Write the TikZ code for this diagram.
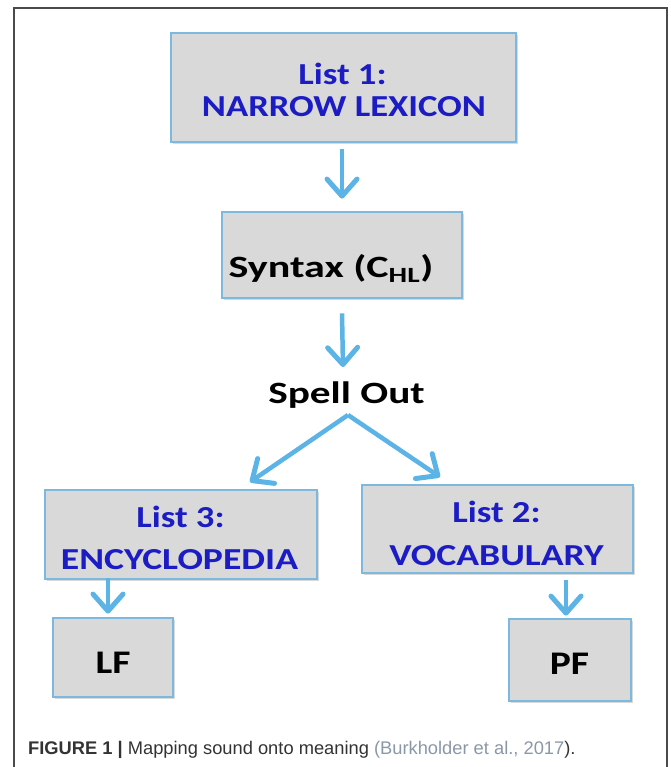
\documentclass[tikz,border=0pt]{standalone}
\usepackage{fontspec}
\setmainfont{Liberation Sans}
\newfontfamily\boxfont[FakeStretch=1.2]{Carlito}
\usetikzlibrary{arrows.meta,shadows}

\definecolor{boxfill}{HTML}{D9D9D9}
\definecolor{boxline}{HTML}{7DB8DE}
\definecolor{arrowblue}{HTML}{5BB3E6}
\definecolor{listblue}{HTML}{1C1CC4}
\definecolor{framegray}{HTML}{4A4A4A}
\definecolor{captext}{HTML}{333333}
\definecolor{citegray}{HTML}{8A97A8}

% horizontal stretch of a label
\newcommand{\widen}[2]{\scalebox{#1}[1]{#2}}

\tikzset{
  panel/.style={draw=boxline, line width=2.8pt, fill=boxfill, inner sep=0pt,
    drop shadow={shadow xshift=2pt, shadow yshift=-2pt, opacity=0.3, fill=gray}},
  flow/.style={draw=arrowblue, line width=4.5pt,
    -{Straight Barb[length=17pt,width=30pt,line width=5pt,round]}},
  listtxt/.style={anchor=base, inner sep=0pt, text=listblue,
    font=\boxfont\bfseries\fontsize{30.5}{32}\selectfont},
  plaintxt/.style={anchor=base, inner sep=0pt, text=black,
    font=\boxfont\bfseries\fontsize{31}{33}\selectfont},
}

\begin{document}
\begin{tikzpicture}[x=1pt,y=-1pt]
\useasboundingbox (0,0) rectangle (670,767);

% outer frame, open at the bottom
\draw[framegray, line width=1.3pt] (14,780) -- (14,8) -- (667,8) -- (667,780);

% boxes
\node[panel, minimum width=345pt, minimum height=109pt] (L1)  at (343.5,87.5) {};
\node[panel, minimum width=240pt, minimum height=86pt]  (Syn) at (342,255) {};
\node[panel, minimum width=272pt, minimum height=89pt]  (L3)  at (181,534.5) {};
\node[panel, minimum width=271pt, minimum height=88pt]  (L2)  at (497.5,529) {};
\node[panel, minimum width=120pt, minimum height=79pt]  (LF)  at (113,657.5) {};
\node[panel, minimum width=122pt, minimum height=82pt]  (PF)  at (570,660) {};

% box texts
\node[listtxt] (L1a) at (342.5,85)  {List 1:};
\node[listtxt] (L1b) at (344,117)   {NARROW LEXICON};
\node[plaintxt] (SynT) at (331,277) {\widen{1.13}{Syntax (C\textsubscript{HL})}};
\node[listtxt] (L3a) at (180.5,527) {List 3:};
\node[listtxt] (L3b) at (179.5,569) {\widen{1.03}{ENCYCLOPEDIA}};
\node[listtxt] (L2a) at (496.5,522) {List 2:};
\node[listtxt] (L2b) at (496.5,565) {\widen{1.03}{VOCABULARY}};
\node[plaintxt, font=\boxfont\bfseries\fontsize{33}{35}\selectfont] (LFt) at (113,673) {LF};
\node[plaintxt, font=\boxfont\bfseries\fontsize{33}{35}\selectfont] (PFt) at (569.5,674) {PF};

% spell-out point
\node[plaintxt] (spell) at (346.5,403) {\widen{1.11}{Spell Out}};
\coordinate (fork) at (348,415);
\coordinate (tipL) at (250,482);
\coordinate (tipR) at (440,477);

% connectors
\draw[flow] ([yshift=-6pt]L1.south -| Syn.north) -- ([yshift=12pt]Syn.north);
\draw[flow] ([yshift=-14pt]Syn.south) -- (343,367);
\draw[flow] (fork) -- (tipL);
\draw[flow] (fork) -- (tipR);
\draw[flow] (108,578) -- ([xshift=-5pt,yshift=3pt]LF.north);
\draw[flow] (566,580) -- ([xshift=-4pt,yshift=2pt]PF.north);

% caption
\node[anchor=base west, inner sep=0pt, text=captext, font=\fontsize{18.3}{21}\selectfont] (cap) at (28,754)
  {\textbf{FIGURE 1 |} Mapping sound onto meaning \textcolor{citegray}{(Burkholder et al., 2017}).};
\end{tikzpicture}
\end{document}
